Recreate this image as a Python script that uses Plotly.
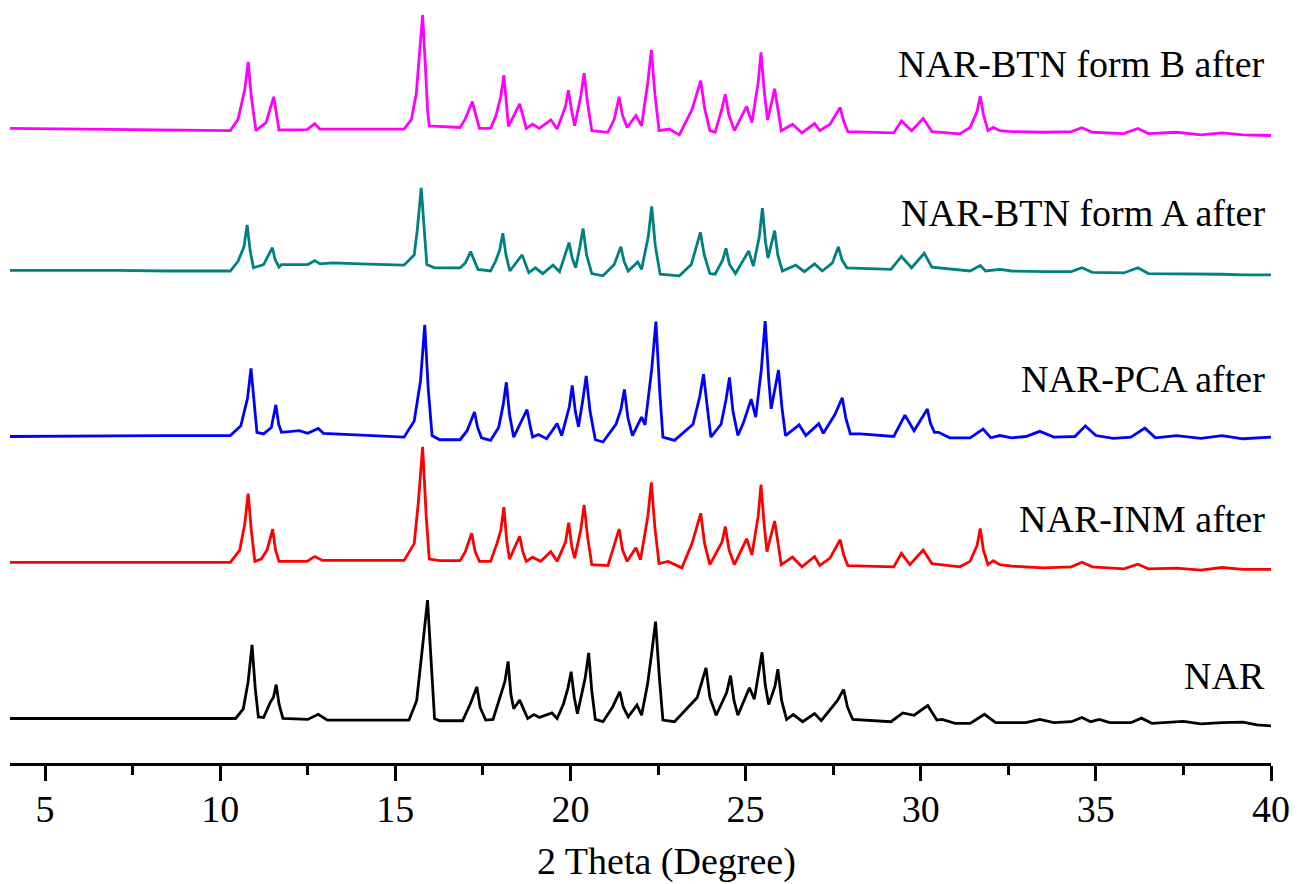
import plotly.graph_objects as go

# ---- data: (2-theta in degree, intensity in a.u.) ----
nar = [
    (4.0, 55), (5.5, 55), (7.0, 55), (8.5, 55), (9.42, 55), (10.44, 55), (10.66, 85), (10.80, 170),
    (10.91, 283), (11.00, 150), (11.09, 60), (11.24, 58), (11.43, 105), (11.52, 120), (11.60, 160),
    (11.68, 100), (11.79, 55), (12.50, 52), (12.80, 68), (13.06, 50), (15.39, 50), (15.61, 110),
    (15.76, 260), (15.92, 422), (16.03, 220), (16.12, 55), (16.27, 48), (16.92, 48), (17.14, 100),
    (17.33, 153), (17.42, 90), (17.58, 50), (17.79, 52), (18.01, 130), (18.13, 170), (18.22, 232),
    (18.30, 130), (18.38, 85), (18.55, 112), (18.78, 55), (18.96, 67), (19.11, 58), (19.47, 72),
    (19.62, 55), (19.80, 100), (19.93, 150), (20.02, 200), (20.11, 120), (20.20, 70), (20.42, 180),
    (20.52, 258), (20.61, 140), (20.71, 52), (20.93, 45), (21.20, 90), (21.41, 138), (21.51, 90),
    (21.65, 60), (21.90, 97), (22.03, 65), (22.20, 160), (22.31, 250), (22.43, 355), (22.54, 180),
    (22.64, 50), (22.97, 45), (23.62, 120), (23.87, 212), (23.98, 120), (24.16, 65), (24.46, 135),
    (24.57, 188), (24.67, 110), (24.78, 65), (25.11, 150), (25.25, 115), (25.38, 195), (25.47, 260),
    (25.56, 160), (25.66, 98), (25.84, 155), (25.92, 208), (26.03, 110), (26.17, 52), (26.36, 67),
    (26.63, 45), (26.97, 70), (27.16, 48), (27.62, 110), (27.80, 145), (27.91, 90), (28.06, 52),
    (29.15, 45), (29.49, 72), (29.81, 65), (30.20, 95), (30.46, 50), (30.61, 52), (30.98, 40),
    (31.41, 40), (31.82, 68), (32.14, 42), (32.6, 42), (33.0, 42), (33.4, 52), (33.8, 42), (34.3, 45),
    (34.6, 58), (34.85, 45), (35.1, 52), (35.4, 42), (36.0, 42), (36.3, 56), (36.6, 40), (37.5, 46),
    (38.0, 38), (38.6, 42), (39.2, 44), (39.6, 35), (40.0, 32),
]

nar_inm = [
    (4.0, 62), (5.5, 62), (7.0, 62), (8.5, 63), (9.42, 62), (10.29, 62), (10.56, 100), (10.70, 180),
    (10.80, 275), (10.89, 160), (10.99, 65), (11.17, 72), (11.34, 100), (11.50, 165), (11.58, 100),
    (11.68, 65), (12.48, 65), (12.70, 80), (12.92, 68), (15.25, 68), (15.54, 120), (15.66, 250),
    (15.78, 420), (15.88, 210), (15.97, 72), (16.27, 67), (16.85, 67), (17.00, 95), (17.18, 152),
    (17.28, 95), (17.40, 65), (17.72, 65), (17.90, 120), (18.01, 160), (18.10, 233), (18.18, 130),
    (18.26, 72), (18.55, 143), (18.64, 95), (18.74, 65), (18.92, 78), (19.15, 65), (19.44, 95),
    (19.62, 65), (19.86, 125), (19.95, 185), (20.04, 110), (20.12, 75), (20.30, 165), (20.39, 240),
    (20.49, 140), (20.61, 55), (21.07, 52), (21.39, 165), (21.49, 100), (21.62, 65), (21.87, 107),
    (22.00, 70), (22.21, 205), (22.31, 310), (22.41, 170), (22.53, 58), (22.79, 65), (23.18, 45),
    (23.47, 120), (23.72, 214), (23.83, 120), (23.98, 55), (24.33, 125), (24.42, 173), (24.53, 100),
    (24.68, 55), (25.03, 135), (25.18, 85), (25.36, 205), (25.44, 303), (25.53, 180), (25.61, 95),
    (25.83, 190), (25.92, 120), (26.02, 55), (26.34, 78), (26.61, 48), (26.97, 80), (27.12, 52),
    (27.41, 75), (27.70, 132), (27.80, 85), (27.92, 52), (29.23, 48), (29.45, 90), (29.69, 55),
    (30.07, 100), (30.32, 58), (31.12, 48), (31.41, 65), (31.61, 115), (31.70, 167), (31.79, 100),
    (31.92, 55), (32.07, 67), (32.26, 55), (32.6, 50), (33.5, 45), (34.3, 48), (34.6, 62), (34.9, 48),
    (35.8, 42), (36.2, 56), (36.5, 42), (37.3, 44), (38.0, 38), (38.6, 46), (39.2, 40), (40.0, 40),
]

nar_pca = [
    (4.0, 42), (5.5, 44), (7.0, 44), (8.5, 45), (9.42, 45), (10.29, 45), (10.59, 75), (10.78, 160),
    (10.88, 253), (10.97, 140), (11.05, 55), (11.24, 50), (11.46, 70), (11.59, 140), (11.67, 80),
    (11.75, 55), (12.26, 60), (12.50, 52), (12.80, 67), (12.95, 52), (13.79, 48), (15.25, 40),
    (15.54, 90), (15.72, 215), (15.84, 388), (15.94, 190), (16.05, 45), (16.27, 32), (16.85, 32),
    (17.05, 60), (17.26, 118), (17.35, 70), (17.46, 38), (17.72, 30), (17.95, 70), (18.08, 140),
    (18.17, 210), (18.26, 110), (18.38, 40), (18.76, 125), (18.85, 75), (18.92, 40), (19.09, 48),
    (19.32, 35), (19.62, 82), (19.75, 45), (19.97, 135), (20.05, 200), (20.14, 120), (20.23, 72),
    (20.36, 160), (20.45, 230), (20.56, 120), (20.71, 32), (20.93, 25), (21.30, 80), (21.44, 125),
    (21.54, 188), (21.64, 100), (21.77, 45), (22.03, 102), (22.13, 78), (22.32, 250), (22.44, 398),
    (22.55, 180), (22.64, 40), (22.97, 30), (23.50, 80), (23.69, 165), (23.80, 235), (23.91, 130),
    (24.01, 40), (24.30, 80), (24.44, 155), (24.54, 225), (24.64, 120), (24.78, 45), (24.93, 82),
    (25.16, 158), (25.29, 102), (25.45, 250), (25.56, 400), (25.66, 220), (25.73, 128), (25.94, 248),
    (26.04, 130), (26.14, 45), (26.53, 78), (26.72, 45), (27.09, 82), (27.22, 52), (27.55, 110),
    (27.76, 162), (27.86, 100), (27.99, 50), (28.28, 50), (29.23, 42), (29.55, 108), (29.81, 60),
    (30.19, 127), (30.27, 85), (30.39, 55), (30.51, 55), (30.83, 38), (31.41, 38), (31.78, 65),
    (32.00, 38), (32.26, 45), (32.6, 38), (33.0, 42), (33.4, 58), (33.8, 40), (34.4, 42), (34.7, 75),
    (35.0, 45), (35.5, 36), (36.0, 40), (36.4, 68), (36.7, 38), (37.3, 45), (38.0, 36), (38.6, 45),
    (39.2, 35), (40.0, 40),
]

nar_btn_a = [
    (4.0, 142), (5.5, 143), (7.0, 142), (8.5, 140), (9.42, 140), (10.29, 140), (10.51, 170),
    (10.68, 215), (10.77, 283), (10.86, 200), (10.95, 150), (11.24, 160), (11.49, 212), (11.57, 175),
    (11.68, 152), (11.75, 160), (12.50, 160), (12.70, 172), (12.85, 162), (13.21, 165), (14.0, 162),
    (15.25, 158), (15.54, 190), (15.63, 270), (15.74, 398), (15.83, 245), (15.90, 160), (16.12, 150),
    (16.85, 150), (17.00, 165), (17.15, 200), (17.36, 145), (17.72, 140), (17.86, 170), (17.98, 205),
    (18.07, 257), (18.16, 190), (18.27, 140), (18.62, 190), (18.81, 135), (19.00, 150), (19.21, 132),
    (19.50, 158), (19.69, 138), (19.96, 228), (20.05, 180), (20.15, 150), (20.27, 215), (20.36, 272),
    (20.46, 190), (20.61, 132), (20.93, 125), (21.25, 160), (21.44, 215), (21.53, 170), (21.65, 140),
    (21.92, 168), (22.03, 145), (22.22, 245), (22.32, 340), (22.42, 220), (22.56, 130), (23.11, 125),
    (23.45, 160), (23.71, 260), (23.82, 190), (23.98, 132), (24.13, 130), (24.35, 175), (24.44, 210),
    (24.54, 160), (24.71, 132), (25.09, 202), (25.22, 155), (25.39, 245), (25.48, 335), (25.57, 230),
    (25.64, 180), (25.83, 265), (25.92, 190), (26.05, 140), (26.43, 158), (26.68, 138), (26.97, 162),
    (27.19, 140), (27.48, 165), (27.65, 215), (27.75, 175), (27.89, 150), (29.15, 145), (29.45, 185),
    (29.74, 150), (30.10, 195), (30.32, 152), (31.41, 140), (31.70, 157), (31.85, 140), (32.26, 145),
    (32.6, 140), (33.5, 138), (34.3, 138), (34.6, 150), (34.9, 136), (35.8, 134), (36.2, 150),
    (36.5, 132), (37.3, 132), (38.6, 130), (39.2, 128), (40.0, 128),
]

nar_btn_b = [
    (4.0, 52), (5.5, 50), (7.0, 48), (8.5, 46), (9.42, 45), (10.29, 45), (10.51, 80), (10.70, 170),
    (10.80, 258), (10.89, 150), (11.02, 45), (11.31, 70), (11.53, 150), (11.61, 90), (11.68, 47),
    (12.48, 48), (12.70, 67), (12.84, 50), (15.25, 50), (15.46, 80), (15.60, 160), (15.68, 270),
    (15.78, 403), (15.87, 220), (15.92, 110), (15.97, 60), (16.85, 55), (16.99, 80), (17.20, 135),
    (17.40, 52), (17.72, 52), (17.87, 90), (18.01, 150), (18.10, 217), (18.18, 130), (18.23, 58),
    (18.55, 128), (18.74, 52), (18.92, 65), (19.11, 52), (19.44, 78), (19.62, 50), (19.86, 120),
    (19.94, 170), (20.03, 110), (20.12, 60), (20.30, 155), (20.39, 223), (20.49, 130), (20.61, 45),
    (21.07, 40), (21.25, 80), (21.39, 150), (21.48, 95), (21.62, 55), (21.87, 92), (22.03, 60),
    (22.21, 195), (22.31, 295), (22.41, 160), (22.53, 45), (22.82, 50), (23.11, 32), (23.47, 110),
    (23.72, 200), (23.83, 115), (23.98, 45), (24.13, 40), (24.33, 115), (24.42, 158), (24.52, 95),
    (24.68, 45), (25.03, 120), (25.18, 70), (25.36, 195), (25.44, 288), (25.53, 170), (25.63, 78),
    (25.83, 175), (25.92, 110), (26.02, 45), (26.34, 65), (26.61, 38), (26.97, 67), (27.12, 45),
    (27.41, 65), (27.70, 117), (27.80, 75), (27.92, 42), (29.23, 38), (29.45, 75), (29.74, 45),
    (30.07, 83), (30.32, 42), (31.12, 35), (31.41, 55), (31.61, 105), (31.70, 152), (31.79, 95),
    (31.92, 45), (32.07, 55), (32.26, 45), (32.6, 42), (33.5, 40), (34.3, 42), (34.6, 54), (34.9, 40),
    (35.8, 36), (36.2, 52), (36.5, 36), (37.3, 40), (38.0, 32), (38.6, 38), (39.2, 32), (40.0, 30),
]

series_names = ["NAR", "NAR-INM after", "NAR-PCA after", "NAR-BTN form A after", "NAR-BTN form B after"]
series_data = [nar, nar_inm, nar_pca, nar_btn_a, nar_btn_b]
offsets = [83, 560, 970, 1385, 1915]          # vertical stacking offsets (a.u.)
label_y = [676, 519, 379, 213, 64]            # label positions, pixels from top
colors = ["#000000", "#FF0000", "#0000FF", "#008080", "#FF00FF"]

x_ticks = [5, 10, 15, 20, 25, 30, 35, 40]

W, H = 1300, 884
ML, MR, MT, MB = 10, 29, 0, 121
Y_MAX = 2365

fig = go.Figure()
for name, pts, off, col in zip(series_names, series_data, offsets, colors):
    fig.add_trace(go.Scatter(
        x=[p[0] for p in pts],
        y=[p[1] + off for p in pts],
        mode="lines", name=name,
        line=dict(color=col, width=2.8),
        showlegend=False,
    ))

font_family = "Liberation Serif, Times New Roman, serif"
annotations = []
for name, ly in zip(series_names, label_y):
    annotations.append(dict(
        text=name, xref="paper", yref="paper",
        x=(1267 - ML) / (W - ML - MR), y=(H - MB - ly) / (H - MT - MB),
        xanchor="right", yanchor="middle", showarrow=False,
        font=dict(family=font_family, size=38, color="black"),
    ))
annotations.append(dict(
    text="2 Theta (Degree)", xref="paper", yref="paper",
    x=(666 - ML) / (W - ML - MR), y=-(861 - (H - MB)) / (H - MT - MB),
    xanchor="center", yanchor="middle", showarrow=False,
    font=dict(family=font_family, size=38, color="black"),
))

fig.update_layout(
    width=W, height=H,
    margin=dict(l=ML, r=MR, t=MT, b=MB),
    paper_bgcolor="white", plot_bgcolor="white",
    annotations=annotations,
    xaxis=dict(
        range=[4, 40], tickmode="array", tickvals=x_ticks,
        ticktext=[str(v) for v in x_ticks],
        showline=True, linecolor="black", linewidth=3,
        ticks="outside", ticklen=15, tickwidth=2.5, tickcolor="black",
        ticklabelstandoff=-5,
        minor=dict(tickmode="linear", tick0=2.5, dtick=5, ticks="outside",
                   ticklen=9, tickwidth=2.5, tickcolor="black"),
        showgrid=False, zeroline=False,
        tickfont=dict(family=font_family, size=38, color="black"),
    ),
    yaxis=dict(range=[0, Y_MAX], visible=False, showgrid=False, zeroline=False),
)

fig.write_html("out.html")
